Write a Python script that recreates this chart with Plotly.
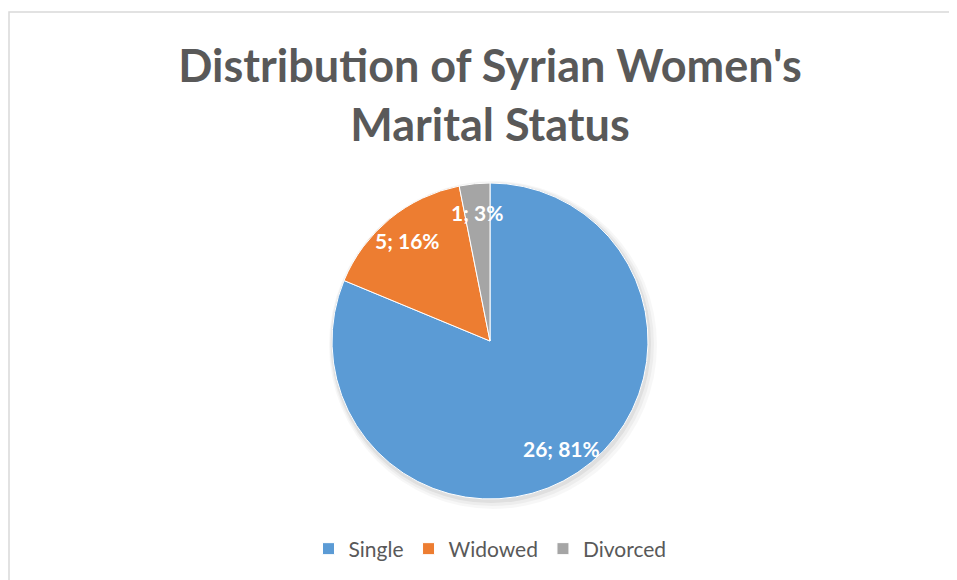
"""
Pie chart: distribution of Syrian women's marital status.
"""

import numpy as np
import plotly.graph_objects as go

W, H = 957, 580
OFF = 8  # page body margin that shifts the whole figure

categories = ["Single", "Widowed", "Divorced"]
counts = [26, 5, 1]
colors = ["#5B9BD5", "#ED7D31", "#A5A5A5"]

FONT = "Lato, 'Open Sans', sans-serif"
GREY = "#595959"

# pie geometry in figure pixels
CX, CY, R = 490 - OFF, 341 - OFF, 158


def pie_domain(cx, cy, r):
    return dict(x=[(cx - r) / W, (cx + r) / W],
                y=[1 - (cy + r) / H, 1 - (cy - r) / H])


fig = go.Figure()

# soft Excel-like shadow behind the pie
for dx, dy, dr, alpha in [(3, 4, 6, 0.03), (2, 3, 4, 0.04), (1, 2, 2, 0.06)]:
    fig.add_trace(go.Pie(
        values=[1], labels=["shadow"], sort=False,
        marker=dict(colors=[f"rgba(0,0,0,{alpha})"], line=dict(width=0)),
        textinfo="none", hoverinfo="skip", showlegend=False,
        domain=pie_domain(CX + dx, CY + dy, R + dr),
    ))

fig.add_trace(go.Pie(
    labels=categories,
    values=counts,
    sort=False,
    direction="clockwise",
    rotation=0,
    marker=dict(colors=colors, line=dict(color="white", width=1)),
    textinfo="none",
    hoverinfo="label+value+percent",
    domain=pie_domain(CX, CY, R),
))

# data labels at ~82% of the radius, on each slice's mid angle
total = sum(counts)
start = 0.0
for cat, n in zip(categories, counts):
    mid = (start + n / 2) / total * 2 * np.pi
    start += n
    x = CX + 0.82 * R * np.sin(mid)
    y = CY - 0.82 * R * np.cos(mid)
    fig.add_annotation(
        x=x / W, y=1 - y / H, xref="paper", yref="paper",
        text=f"{n}; {n / total:.0%}", showarrow=False,
        font=dict(family=FONT, size=21, color="white", weight="bold"),
        xanchor="center", yanchor="middle",
    )

# chart-area border (cut off on the right and bottom in the original)
fig.add_shape(
    type="rect", xref="paper", yref="paper",
    x0=(9 - OFF) / W, x1=1.02, y0=-0.02, y1=1 - (12 - OFF) / H,
    line=dict(color="#D9D9D9", width=1.5),
    fillcolor="rgba(0,0,0,0)",
)

fig.update_layout(
    width=W,
    height=H,
    margin=dict(l=0, r=0, t=0, b=0),
    paper_bgcolor="white",
    plot_bgcolor="white",
    title=dict(
        text="Distribution of Syrian Women's<br>Marital Status",
        font=dict(family=FONT, size=45, color=GREY, weight="bold"),
        x=(490 - OFF) / W, xanchor="center",
        y=1 - 74 / H, yanchor="top",
    ),
    showlegend=True,
    legend=dict(
        orientation="h",
        x=(490 - OFF) / W, xanchor="center",
        y=1 - (549 - OFF) / H, yanchor="middle",
        font=dict(family=FONT, size=21, color=GREY),
        itemclick=False,
    ),
)

fig.write_html("out.html")
